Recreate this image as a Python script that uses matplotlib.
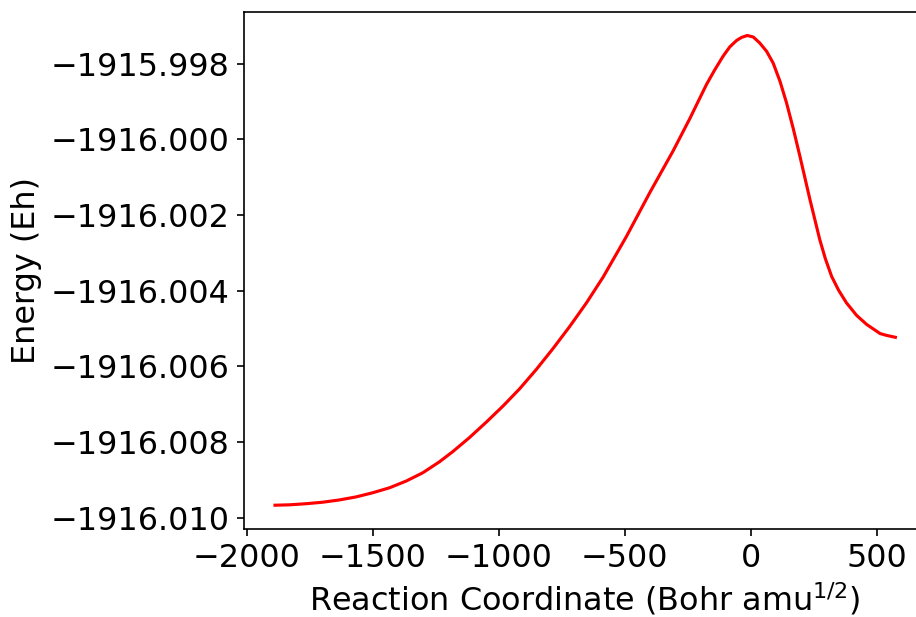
import matplotlib
matplotlib.use("Agg")
import matplotlib.pyplot as plt

# IRC energy profile along the reaction coordinate
reaction_coord = [
    -1888, -1831, -1764, -1698, -1632, -1566, -1500, -1434, -1367, -1301,
    -1235, -1182, -1116, -1049, -983.5, -917, -851, -785, -718, -652,
    -586, -493, -401, -308, -242, -176, -143, -110, -83, -56, -36, -14,
    10, 36, 63, 89, 116, 142, 169, 195, 235, 274, 296, 321, 349, 380,
    420, 460, 513, 539, 574,
]
energy = [
    -1916.00967, -1916.00966, -1916.00963, -1916.00959, -1916.00953,
    -1916.00945, -1916.00934, -1916.00921, -1916.00903, -1916.00881,
    -1916.00852, -1916.00825, -1916.00788, -1916.00747, -1916.00705,
    -1916.00659, -1916.00608, -1916.00553, -1916.00494, -1916.00432,
    -1916.00364, -1916.00256, -1916.00141, -1916.00030, -1915.99945,
    -1915.99855, -1915.99816, -1915.99780, -1915.99755, -1915.99738,
    -1915.99730, -1915.99725, -1915.99729, -1915.99745, -1915.99767,
    -1915.99798, -1915.99846, -1915.99903, -1915.99972, -1916.00044,
    -1916.00159, -1916.00265, -1916.00315, -1916.00362, -1916.00399,
    -1916.00432, -1916.00465, -1916.00489, -1916.00513, -1916.00518,
    -1916.00523,
]

plt.rcParams["font.size"] = 15.3

fig = plt.figure(figsize=(916 / 150, 617 / 150), dpi=150)
ax = fig.add_axes([244 / 916, (617 - 528.7) / 617, 682.4 / 916, 516.7 / 617])

ax.plot(reaction_coord, energy, color="red", linewidth=1.5)

ax.set_xlabel("Reaction Coordinate (Bohr amu$^{1/2}$)", labelpad=3.0)
ax.set_ylabel("Energy (Eh)")
ax.ticklabel_format(axis="y", useOffset=False, style="plain")

fig.savefig("out.png", dpi=150)
